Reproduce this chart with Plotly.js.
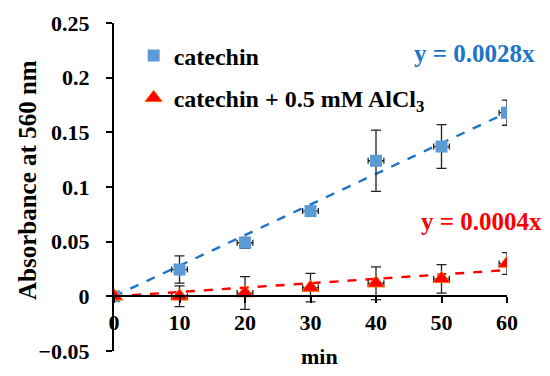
<!DOCTYPE html>
<html><head><meta charset="utf-8">
<script src="https://cdn.plot.ly/plotly-3.0.1.min.js"></script>
<style>html,body{margin:0;padding:0;background:#fff}#chart{width:550px;height:376px}</style>
</head><body><div id="chart"></div>
<script>
const minutes = [0, 10, 20, 30, 40, 50, 60];
const catechin = [0, 0.0245, 0.049, 0.078, 0.124, 0.137, 0.168];
const catechinErr = [0, 0.0125, 0.005, 0.003, 0.028, 0.02, 0.0115];
const catechinAl = [0, 0, 0.003, 0.008, 0.012, 0.016, 0.030];
const catechinAlErr = [0, 0.0095, 0.015, 0.013, 0.015, 0.013, 0.01];
const minutesErr = [0, 1.2, 1.2, 1.2, 1.2, 1.2, 1.2];
const slopeCat = 0.0028;
const slopeAl = 0.0004;
const fitX = [0, 60];

const F = "Liberation Serif";
const blue = '#5B9BD5', blueLine = '#1B75C8', red = '#FF0000';

const traces = [
  {x: fitX, y: fitX.map(v => v * slopeCat), mode: 'lines', showlegend: false, hoverinfo: 'skip',
   line: {color: blueLine, width: 2.4, dash: 'dash'}},
  {x: fitX, y: fitX.map(v => v * slopeAl), mode: 'lines', showlegend: false, hoverinfo: 'skip',
   line: {color: red, width: 2.4, dash: 'dash'}},
  {x: minutes, y: catechin, name: 'catechin', mode: 'markers', legendgroup: 'a',
   marker: {symbol: 'square', size: 12, color: blue},
   error_y: {type: 'data', array: catechinErr, color: '#222', thickness: 1.3, width: 5},
   error_x: {type: 'data', array: minutesErr, color: '#222', thickness: 1.3, width: 3}},
  {x: minutes, y: catechinAl, name: 'catechin + 0.5 mM AlCl<sub>3</sub>', mode: 'markers', legendgroup: 'b',
   marker: {symbol: 'triangle-up', size: 15, color: red, line: {color: '#FF6A00', width: 1}},
   error_y: {type: 'data', array: catechinAlErr, color: '#222', thickness: 1.3, width: 5},
   error_x: {type: 'data', array: minutesErr, color: '#222', thickness: 1.3, width: 3}}
];

const layout = {
  width: 550, height: 376,
  margin: {l: 114, r: 43, t: 23, b: 25},
  paper_bgcolor: '#fff', plot_bgcolor: '#fff',
  font: {family: F, color: '#000'},
  showlegend: true,
  legend: {x: 0.05, y: 0.968, xanchor: 'left', yanchor: 'top', bgcolor: 'rgba(0,0,0,0)',
           font: {family: F, size: 24, color: '#000', weight: 'bold'},
           traceorder: 'grouped', tracegroupgap: 8, itemwidth: 30},
  xaxis: {range: [0, 60], tickvals: minutes, ticktext: minutes.map(String),
          anchor: 'free', position: 0.1667, showgrid: false, zeroline: false,
          showline: true, linecolor: '#000', linewidth: 2, ticks: 'outside', ticklen: 6,
          tickcolor: '#000', tickwidth: 2,
          tickfont: {family: F, size: 22, color: '#000', weight: 'bold'}},
  yaxis: {range: [-0.05, 0.25], dtick: 0.05, tick0: 0, showgrid: false, zeroline: false,
          showline: true, linecolor: '#000', linewidth: 2, ticks: 'outside', ticklen: 6,
          tickcolor: '#000', tickwidth: 2, ticklabelstandoff: 12,
          tickfont: {family: F, size: 22, color: '#000', weight: 'bold'}},
  annotations: [
    {text: 'Absorbance at 560 nm', xref: 'paper', yref: 'paper', x: -0.22, y: 0.52,
     xanchor: 'center', yanchor: 'middle',
     textangle: -90, showarrow: false, font: {family: F, size: 25, color: '#000', weight: 'bold'}},
    {text: 'min', xref: 'paper', yref: 'paper', x: 0.524, y: -0.017, yanchor: 'middle',
     showarrow: false, font: {family: F, size: 22, color: '#000', weight: 'bold'}},
    {text: 'y = 0.0028x', xref: 'x', yref: 'y', x: 55.1, y: 0.2217, showarrow: false,
     font: {family: F, size: 25, color: blueLine, weight: 'bold'}},
    {text: 'y = 0.0004x', xref: 'x', yref: 'y', x: 56.1, y: 0.0685, showarrow: false,
     font: {family: F, size: 25, color: red, weight: 'bold'}}
  ]
};

Plotly.newPlot('chart', traces, layout, {displayModeBar: false, staticPlot: true});
</script></body></html>
